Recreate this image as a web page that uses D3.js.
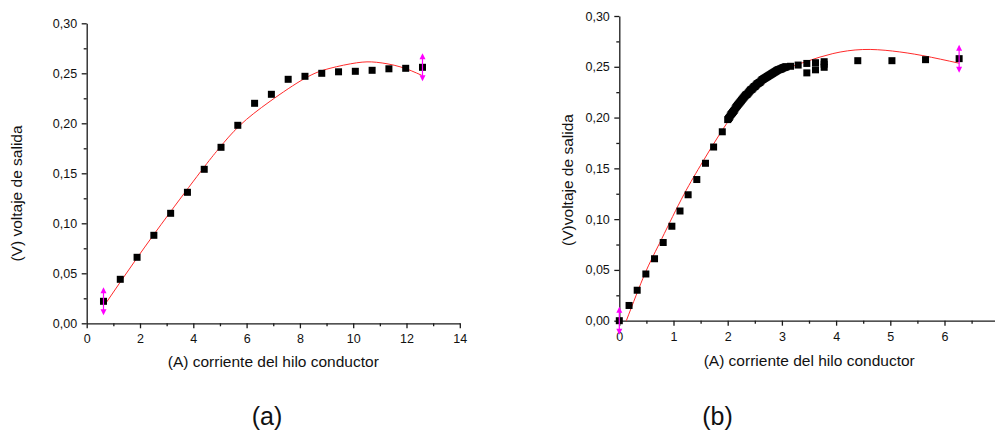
<!DOCTYPE html>
<html>
<head>
<meta charset="utf-8">
<script src="https://cdn.jsdelivr.net/npm/d3@7"></script>
<style>
  body { margin: 0; background: #fff; }
  svg { display: block; font-family: "Liberation Sans", Arial, sans-serif; }
  .axis path, .axis line { stroke: #1a1a1a; stroke-width: 1.3; }
  .axis text { font-size: 12.5px; fill: #111; }
  .axis-label { font-size: 15.5px; fill: #111; }
  .panel-tag { font-size: 25px; fill: #111; }
</style>
</head>
<body>
<div id="chart"></div>
<script>
// ---- data (a) ----
const currentA = [0.63, 1.26, 1.89, 2.52, 3.15, 3.78, 4.41, 5.04, 5.67, 6.30,
  6.93, 7.56, 8.19, 8.82, 9.45, 10.08, 10.71, 11.34, 11.97, 12.60];
const voltageA = [0.022, 0.044, 0.066, 0.088, 0.110, 0.131, 0.154, 0.176, 0.198, 0.220,
  0.229, 0.244, 0.247, 0.250, 0.2515, 0.252, 0.253, 0.2545, 0.255, 0.256];
// ajuste (linha vermelha)
const fitXA = [0.69, 1.88, 3.13, 4.40, 5.00, 5.75, 6.88, 8.19, 9.13, 10.13, 10.88, 11.76, 12.57];
const fitYA = [0.019, 0.065, 0.111, 0.156, 0.176, 0.198, 0.222, 0.245, 0.255, 0.2605, 0.261, 0.2565, 0.248];

// ---- data (b) ----
// pontos iniciais
const lowCurrentB = [0.00, 0.18, 0.33, 0.49, 0.65, 0.81, 0.97, 1.12, 1.27, 1.43, 1.59, 1.74, 1.90];
const lowVoltageB = [0.000, 0.015, 0.030, 0.046, 0.061, 0.077, 0.093, 0.108, 0.124, 0.139, 0.155, 0.171, 0.186];
// faixa densa entre 2 e 3,1 A
const bandCurrentB = [2.000, 2.015, 2.030, 2.045, 2.060, 2.075, 2.090, 2.105, 2.120, 2.135,
  2.150, 2.165, 2.180, 2.195, 2.210, 2.225, 2.240, 2.255, 2.270, 2.285,
  2.300, 2.315, 2.330, 2.345, 2.360, 2.375, 2.390, 2.405, 2.420, 2.435,
  2.450, 2.465, 2.480, 2.495, 2.510, 2.525, 2.540, 2.555, 2.570, 2.585,
  2.600, 2.615, 2.630, 2.645, 2.660, 2.675, 2.690, 2.705, 2.720, 2.735,
  2.750, 2.765, 2.780, 2.795, 2.810, 2.825, 2.840, 2.855, 2.870, 2.885,
  2.900, 2.915, 2.930, 2.945, 2.960, 2.975, 2.990, 3.005, 3.020, 3.035,
  3.050, 3.065, 3.080];
const bandVoltageB = [0.198, 0.199, 0.200, 0.2015, 0.203, 0.204, 0.205, 0.206, 0.207, 0.2085,
  0.210, 0.211, 0.212, 0.213, 0.214, 0.215, 0.216, 0.217, 0.218, 0.219,
  0.220, 0.221, 0.222, 0.2225, 0.223, 0.224, 0.225, 0.226, 0.227, 0.2275,
  0.228, 0.229, 0.230, 0.2305, 0.231, 0.232, 0.233, 0.2335, 0.234, 0.2345,
  0.235, 0.236, 0.237, 0.2375, 0.238, 0.2385, 0.239, 0.2395, 0.240, 0.2405,
  0.241, 0.2415, 0.242, 0.2425, 0.243, 0.2435, 0.244, 0.2445, 0.245, 0.2455,
  0.246, 0.2465, 0.247, 0.2472, 0.2475, 0.2478, 0.248, 0.2485, 0.249, 0.2492,
  0.2495, 0.2498, 0.250];
// patamar
const highCurrentB = [3.16, 3.30, 3.46, 3.46, 3.62, 3.62, 3.78, 3.78, 3.78, 4.40, 5.03, 5.65, 6.27];
const highVoltageB = [0.2505, 0.2517, 0.2533, 0.244, 0.254, 0.247, 0.255, 0.2525, 0.2495, 0.256, 0.256, 0.257, 0.258];
const fitXB = [0.13, 0.47, 0.74, 1.14, 1.50, 1.88, 2.30, 2.70, 3.00, 3.44, 3.94, 4.49, 5.04, 5.60, 6.27];
const fitYB = [0.000, 0.046, 0.076, 0.119, 0.153, 0.186, 0.216, 0.235, 0.246, 0.255, 0.263, 0.267, 0.2655, 0.261, 0.2535];

// ---- ticks ----
const yTicks = [0, 0.05, 0.10, 0.15, 0.20, 0.25, 0.30];
const yMinor = [0.025, 0.075, 0.125, 0.175, 0.225, 0.275];
const xTicksA = [0, 2, 4, 6, 8, 10, 12, 14];
const xMinorA = [1, 3, 5, 7, 9, 11, 13];
const xTicksB = [0, 1, 2, 3, 4, 5, 6];
const xMinorB = [0.5, 1.5, 2.5, 3.5, 4.5, 5.5, 6.5];

const locale = d3.formatLocale({ decimal: ',', thousands: '.', grouping: [3], currency: ['', ''] });
const fmtY = locale.format('.2f');
const fmtX = d3.format('d');

const svg = d3.select('#chart').append('svg').attr('width', 995).attr('height', 436);

const panels = [
  {
    current: currentA, voltage: voltageA, fitX: fitXA, fitY: fitYA,
    xDomain: [0, 14], xRange: [86.7, 459.8], yRange: [323.3, 23.3],
    xTicks: xTicksA, xMinor: xMinorA,
    yLabel: '(V) voltaje de salida', yLabelX: 21.5, yLabelY: 193.5,
    xLabelX: 273.3, xLabelY: 367.4, tag: '(a)', tagX: 267,
  },
  {
    current: lowCurrentB.concat(bandCurrentB, highCurrentB),
    voltage: lowVoltageB.concat(bandVoltageB, highVoltageB),
    fitX: fitXB, fitY: fitYB,
    xDomain: [0, 7], xRange: [619.3, 998.7], yRange: [320.7, 16],
    xTicks: xTicksB, xMinor: xMinorB,
    yLabel: '(V)voltaje de salida', yLabelX: 573.4, yLabelY: 180,
    xLabelX: 809.2, xLabelY: 365.5, tag: '(b)', tagX: 717.5,
  },
];

panels.forEach(p => {
  const x = d3.scaleLinear().domain(p.xDomain).range(p.xRange);
  const y = d3.scaleLinear().domain([0, 0.30]).range(p.yRange);
  const g = svg.append('g');

  // eixos (maiores + menores)
  g.append('g').attr('class', 'axis')
    .attr('transform', `translate(0,${p.yRange[0]})`)
    .call(d3.axisBottom(x).tickValues(p.xTicks).tickFormat(fmtX)
      .tickSize(5).tickSizeOuter(0).tickPadding(6));
  g.append('g').attr('class', 'axis')
    .attr('transform', `translate(0,${p.yRange[0]})`)
    .call(d3.axisBottom(x).tickValues(p.xMinor).tickSize(3).tickFormat(''))
    .select('.domain').remove();
  g.append('g').attr('class', 'axis')
    .attr('transform', `translate(${p.xRange[0]},0)`)
    .call(d3.axisLeft(y).tickValues(yTicks).tickFormat(fmtY)
      .tickSize(5).tickSizeOuter(0).tickPadding(4.5));
  g.append('g').attr('class', 'axis')
    .attr('transform', `translate(${p.xRange[0]},0)`)
    .call(d3.axisLeft(y).tickValues(yMinor).tickSize(3).tickFormat(''))
    .select('.domain').remove();

  // linha de ajuste
  const fit = p.fitX.map((v, i) => [v, p.fitY[i]]);
  g.append('path')
    .datum(fit)
    .attr('fill', 'none')
    .attr('stroke', '#ff2a2a')
    .attr('stroke-width', 1)
    .attr('d', d3.line().x(d => x(d[0])).y(d => y(d[1])).curve(d3.curveNatural));

  // pontos
  const pts = p.current.map((v, i) => ({ c: v, v: p.voltage[i] }));
  g.selectAll('.pt').data(pts).enter().append('rect')
    .attr('class', 'pt')
    .attr('x', d => x(d.c) - 3.5)
    .attr('y', d => y(d.v) - 3.5)
    .attr('width', 7)
    .attr('height', 7)
    .attr('fill', '#000');

  // marcadores magenta no primeiro e último ponto
  const ends = [pts[0], pts[pts.length - 1]];
  const mk = g.selectAll('.marker').data(ends).enter().append('g')
    .attr('class', 'marker')
    .attr('transform', d => `translate(${x(d.c)},${y(d.v)})`);
  mk.append('line').attr('y1', -12).attr('y2', 12)
    .attr('stroke', '#ff00ff').attr('stroke-width', 1.2);
  mk.append('path').attr('d', 'M0,-14L-3,-8L3,-8Z').attr('fill', '#ff00ff');
  mk.append('path').attr('d', 'M0,14L-3,8L3,8Z').attr('fill', '#ff00ff');

  // rótulos
  g.append('text').attr('class', 'axis-label')
    .attr('text-anchor', 'middle')
    .attr('transform', `translate(${p.yLabelX},${p.yLabelY}) rotate(-90)`)
    .text(p.yLabel);
  g.append('text').attr('class', 'axis-label')
    .attr('text-anchor', 'middle')
    .attr('x', p.xLabelX).attr('y', p.xLabelY)
    .text('(A) corriente del hilo conductor');
  g.append('text').attr('class', 'panel-tag')
    .attr('text-anchor', 'middle')
    .attr('x', p.tagX).attr('y', 425)
    .text(p.tag);
});
</script>
</body>
</html>
